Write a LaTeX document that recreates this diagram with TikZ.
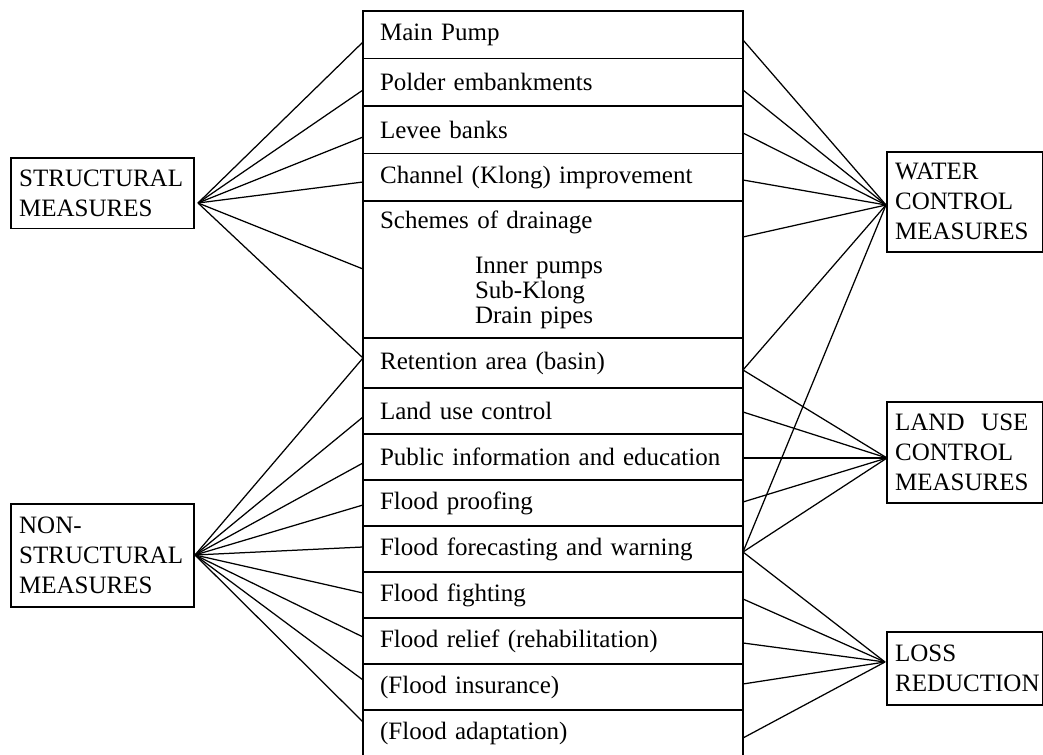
\documentclass[tikz,border=0pt]{standalone}
\usepackage{fontspec}
\setmainfont{Liberation Serif}
\usetikzlibrary{positioning}

\tikzset{
  measure/.style={draw, thick, anchor=north west, align=left, inner xsep=4pt,
    font=\fontsize{12}{14.4}\selectfont},
  item/.style={draw, thick, outer sep=0pt, minimum width=182.4pt, text width=166pt,
    inner xsep=8.2pt, align=left, minimum height=22.08pt,
    font=\fontsize{12}{14.4}\selectfont},
  link/.style={line width=0.6pt}
}

\begin{document}
\begin{tikzpicture}[x=0.48pt, y=-0.48pt]
    \useasboundingbox (0,0) rectangle (1043,755);

    % the measures on both sides
    \node [measure, text width=80pt, minimum height=34pt]   (struct)  at (10,157)  {STRUCTURAL\\MEASURES};
    \node [measure, text width=80pt, minimum height=49.4pt] (nonstr)  at (10,503)  {NON-\\STRUCTURAL\\MEASURES};
    \node [measure, text width=67pt, minimum height=48pt]   (water)   at (886,151) {WATER\\CONTROL\\MEASURES};
    \node [measure, text width=67pt, minimum height=48.5pt] (landuse) at (886,401) {LAND\ \ USE\\CONTROL\\MEASURES};
    \node [measure, text width=67pt, minimum height=35pt]   (loss)    at (886,631) {LOSS\\REDUCTION};

    % the list in the middle
    \node [item, anchor=north west, minimum height=22.8pt] (mp) at (363,11) {Main Pump};
    \node [item, minimum height=22.8pt, below=0pt of mp] (pe) {Polder embankments};
    \node [item, minimum height=22.8pt, below=0pt of pe] (lb) {Levee banks};
    \node [item, minimum height=22.8pt, below=0pt of lb] (ch) {Channel (Klong) improvement};
    \node [item, minimum height=65.76pt, below=0pt of ch] (sd) {Schemes of drainage\\[7.2pt]
        \hspace*{45.6pt}Inner pumps\\[-2.4pt]
        \hspace*{45.6pt}Sub-Klong\\[-2.4pt]
        \hspace*{45.6pt}Drain pipes};
    \node [item, minimum height=24pt, below=0pt of sd] (ra) {Retention area (basin)};
    \node [item, below=0pt of ra] (lu) {Land use control};
    \node [item, below=0pt of lu] (pi) {Public information and education};
    \node [item, below=0pt of pi] (fp) {Flood proofing};
    \node [item, below=0pt of fp] (ff) {Flood forecasting and warning};
    \node [item, below=0pt of ff] (fg) {Flood fighting};
    \node [item, below=0pt of fg] (fr) {Flood relief (rehabilitation)};
    \node [item, below=0pt of fr] (fi) {(Flood insurance)};
    \node [item, below=0pt of fi] (fa) {(Flood adaptation)};

    % where the lines meet
    \coordinate (struct-hub)  at (198,203);
    \coordinate (nonstr-hub)  at (195,555);
    \coordinate (water-hub)   at (886,205);
    \coordinate (landuse-hub) at (887,458);
    \coordinate (loss-hub)    at (885,662);

    \foreach \n/\l/\r in {mp/42/40, pe/90/90, lb/137/133, ch/182/180, sd/269/237,
        ra/358/370, lu/417/412, pi/463/458, fp/505/502, ff/547/552,
        fg/593/599, fr/637/643, fi/680/684, fa/722/738} {
      \coordinate (\n-l) at (\n.west |- 0,\l);
      \coordinate (\n-r) at (\n.east |- 0,\r);
    }

    % Now draw the lines:
    \foreach \n in {mp,pe,lb,ch,sd,ra}
      \draw [link] (struct-hub) -- (\n-l);
    \foreach \n in {ra,lu,pi,fp,ff,fg,fr,fi,fa}
      \draw [link] (nonstr-hub) -- (\n-l);
    \foreach \n in {mp,pe,lb,ch,sd,ra,ff}
      \draw [link] (water-hub) -- (\n-r);
    \foreach \n in {ra,lu,pi,fp,ff}
      \draw [link] (landuse-hub) -- (\n-r);
    \foreach \n in {ff,fg,fr,fi,fa}
      \draw [link] (loss-hub) -- (\n-r);
\end{tikzpicture}
\end{document}
